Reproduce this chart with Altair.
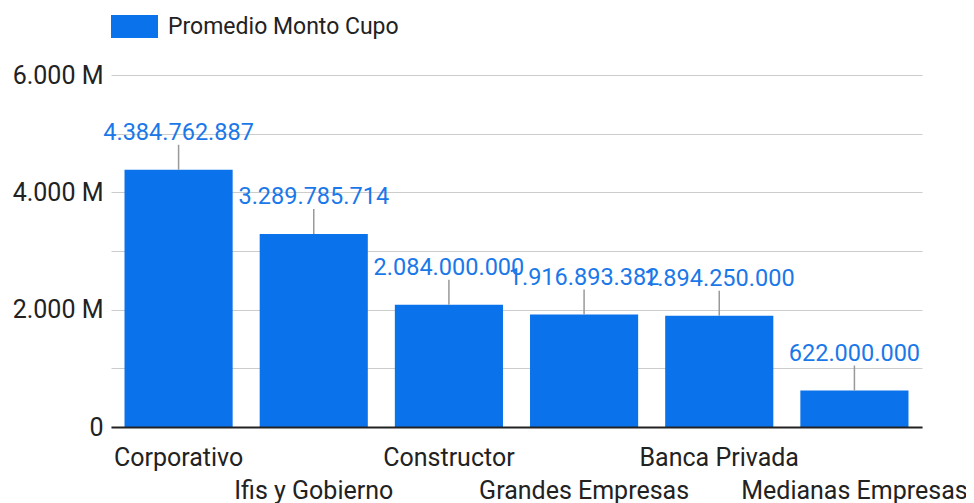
import altair as alt
import pandas as pd

categories = ["Corporativo", "Ifis y Gobierno", "Constructor", "Grandes Empresas",
              "Banca Privada", "Medianas Empresas"]
values = [4384762887, 3289785714, 2084000000, 1916893382, 1894250000, 622000000]
series_name = "Promedio Monto Cupo"
y_ticks = [0, 1e9, 2e9, 3e9, 4e9, 5e9, 6e9]

BAR = "#0a72ea"
LABEL = "#1a78e9"

df = pd.DataFrame({
    "cat": categories,
    "val": values,
    "label": [f"{v:,}".replace(",", ".") for v in values],
    "serie": [series_name] * len(categories),
})

cat_list = "[" + ",".join("'" + c + "'" for c in categories) + "]"

x_enc = alt.X(
    "cat:N", sort=categories, title=None,
    scale=alt.Scale(paddingInner=0.2, paddingOuter=0.1),
    axis=alt.Axis(
        labelExpr=f"indexof({cat_list}, datum.value) % 2 == 1 ? ['', datum.value] : datum.value",
        labelAngle=0, labelFontSize=25, labelColor="#222222", labelLineHeight=33,
        labelPadding=18, ticks=False, tickSize=0, labelOverlap=False, labelBound=False,
        labelFlush=False, labelLimit=0, domainColor="#222222", domainWidth=2, zindex=1,
    ),
)

y_scale = alt.Scale(domain=[0, 6e9], nice=False)

bars = alt.Chart(df).mark_bar().encode(
    x=x_enc,
    y=alt.Y("val:Q", scale=y_scale, title=None,
            axis=alt.Axis(values=y_ticks, grid=True, gridColor="#cccccc", gridWidth=1,
                          domain=False, ticks=False, labelPadding=8, labelFontSize=25,
                          labelColor="#222222",
                          labelExpr="datum.value % 2000000000 == 0 ? (datum.value == 0 ? '0' : replace(format(datum.value / 1000000, ','), ',', '.') + ' M') : ''")),
    color=alt.Color("serie:N", scale=alt.Scale(range=[BAR]),
                    legend=alt.Legend(title=None, orient="none", legendX=0, legendY=-72,
                                      symbolType="M-1,-0.49L1,-0.49L1,0.49L-1,0.49Z",
                                      symbolSize=2209, symbolStrokeWidth=0,
                                      labelFontSize=23, labelColor="#222222",
                                      labelOffset=10, labelLimit=0, padding=0)),
)

leaders = alt.Chart(df).mark_rule(color="#999999", strokeWidth=1.5, y2Offset=-25).encode(
    x=alt.X("cat:N", sort=categories),
    y=alt.Y("val:Q", scale=y_scale),
    y2=alt.Y2("val"),
)

labels = alt.Chart(df).mark_text(dy=-30, baseline="alphabetic", fontSize=23.5,
                                 color=LABEL).encode(
    x=alt.X("cat:N", sort=categories),
    y=alt.Y("val:Q", scale=y_scale),
    text="label:N",
)

chart = alt.layer(bars, leaders, labels).properties(
    width=811, height=352,
    autosize=alt.AutoSizeParams(type="none"),
    padding={"left": 103, "top": 67, "right": 44, "bottom": 76},
).configure(font="Roboto").configure_view(stroke=None)

chart.save("out.html", embed_options={"renderer": "svg", "actions": False})
